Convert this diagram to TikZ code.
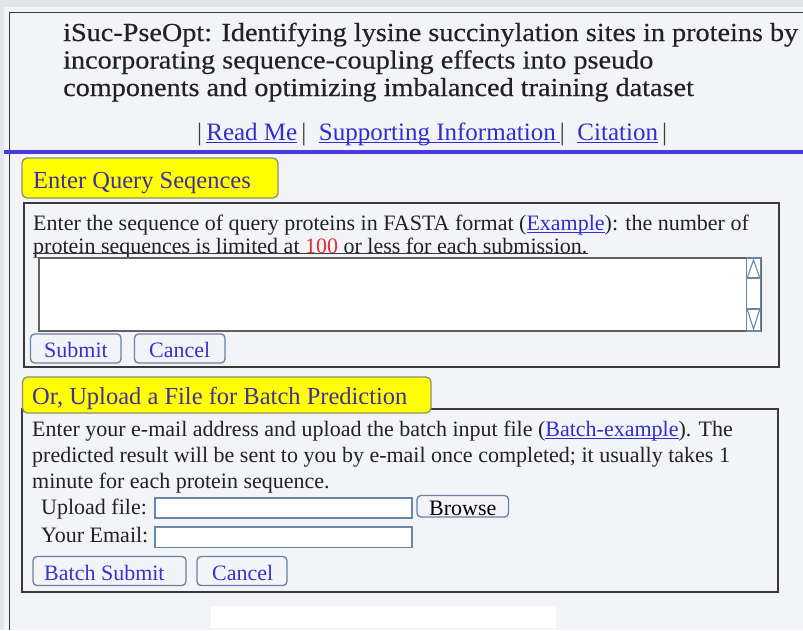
\documentclass[tikz,border=0pt]{standalone}
\usepackage{fontspec}
\setmainfont{Liberation Serif}
\newfontfamily\titlefont[FakeStretch=1.085,FakeBold=0.4]{Liberation Serif}
\definecolor{outerbg}{HTML}{E3E6E8}
\definecolor{panel}{HTML}{F2F4F8}
\definecolor{frameline}{HTML}{3A3A3A}
\definecolor{bluebar}{HTML}{4B3AE0}
\definecolor{tabyellow}{HTML}{FFFF00}
\definecolor{tabborder}{HTML}{8C8F70}
\definecolor{tabtext}{HTML}{40309A}
\definecolor{linkblue}{HTML}{2F2FD0}
\definecolor{btnborder}{HTML}{6C80A0}
\definecolor{btntext}{HTML}{3C2FD0}
\definecolor{inputborder}{HTML}{6A86A8}
\definecolor{redtxt}{HTML}{DC3036}
\definecolor{bodytext}{HTML}{222222}
\newcommand\myul[1]{\setbox0\hbox{#1}\rlap{\rule[-2.6pt]{\wd0}{1pt}}\box0}
\newcommand\lnk[1]{\textcolor{linkblue}{\myul{#1}}}
\tikzset{
  ttl/.style={anchor=base west, inner sep=0pt, text=bodytext, font=\titlefont\fontsize{26}{28}\selectfont},
  txt/.style={anchor=base west, inner sep=0pt, text=bodytext, font=\fontsize{22}{26}\selectfont},
  tabtxt/.style={anchor=base west, inner sep=0pt, text=tabtext, font=\fontsize{24.5}{28}\selectfont},
  btntxt/.style={anchor=base west, inner sep=0pt, text=btntext, font=\fontsize{22}{26}\selectfont},
  tabbox/.style={draw=tabborder, fill=tabyellow, rounded corners=5pt, line width=1.3pt},
  btnbox/.style={draw=btnborder, fill=panel, rounded corners=4pt, line width=1.3pt},
  inbox/.style={draw=inputborder, fill=white, line width=1.2pt},
  boxline/.style={draw=frameline, line width=1.5pt},
}
\begin{document}
\begin{tikzpicture}[x=1pt,y=-1pt]
\useasboundingbox (0,0) rectangle (803,630);
% backgrounds
\fill[outerbg] (0,0) rectangle (803,630);
\fill[panel] (4,7) rectangle (803,630);
\draw[frameline, line width=1.6pt] (9.5,630) -- (9.5,12.5) -- (803,12.5);
% title
\node[ttl] (t1) at (63,41) {iSuc-PseOpt: Identifying lysine succinylation sites in proteins by};
\node[ttl] (t2) at (63,68.5) {incorporating sequence-coupling effects into pseudo};
\node[ttl] (t3) at (63,96) {components and optimizing imbalanced training dataset};
\node[txt, font=\fontsize{25}{28}\selectfont, text=frameline] (links) at (197,140) {|\,\lnk{Read Me}\,|\ \ \lnk{Supporting Information\,}|\ \ \lnk{Citation}\,|};
% blue bar
\draw[bluebar, line width=4pt] (4,152) -- (803,152);
% section 1
\draw[tabbox] (22,158) rectangle (278,198);
\node[tabtxt] (tab1) at (33,188) {Enter Query Seqences};
\draw[boxline] (24,203) rectangle (779,367);
\node[txt] (l1) at (33,230.5) {Enter the sequence of query proteins in FASTA format (\lnk{Example}): the number of};
\node[txt] (l2) at (33,253) {protein sequences is limited at \textcolor{redtxt}{100} or less for each submission.};
\draw[frameline, line width=1pt] (l2.base west) -- (l2.base east);
% textarea
\draw[fill=white, draw=frameline!80, line width=1.3pt] (39,258) rectangle (761,331);
\draw[draw=inputborder, fill=white, line width=1.2pt] (746.5,258) rectangle (760.5,331);
\draw[inputborder, line width=1.1pt] (746.5,278) -- (760.5,278) (746.5,309) -- (760.5,309);
\draw[inputborder, line width=1.1pt] (747.5,277) -- (753.5,260) -- (759.5,277);
\draw[inputborder, line width=1.1pt] (747.5,310) -- (753.5,329) -- (759.5,310);
% buttons
\draw[btnbox] (30.5,334) rectangle (121,363);
\node[btntxt] (sub) at (44,357) {Submit};
\draw[btnbox] (134.5,334) rectangle (225,363);
\node[btntxt] (can1) at (149,357) {Cancel};
% section 2
\draw[boxline] (22,409) rectangle (778,592);
\draw[tabbox] (22.5,377) rectangle (431,413);
\node[tabtxt] (tab2) at (32,404) {Or, Upload a File for Batch Prediction};
\node[txt] (b1) at (32,436) {Enter your e-mail address and upload the batch input file (\lnk{Batch-example}). The};
\node[txt] (b2) at (32,462) {predicted result will be sent to you by e-mail once completed; it usually takes 1};
\node[txt] (b3) at (32,488) {minute for each protein sequence.};
\node[txt] (up) at (41,514) {Upload file:};
\draw[inbox] (155,498) rectangle (412,518);
\draw[btnbox] (417,495.5) rectangle (508.5,517);
\node[txt, text=black] (browse) at (429,515) {Browse};
\node[txt] (em) at (41,542) {Your Email:};
\draw[inbox] (155,527) rectangle (412,547.5);
\draw[btnbox] (33,556.5) rectangle (186,585.5);
\node[btntxt] (bsub) at (44,580) {Batch Submit};
\draw[btnbox] (197,556.5) rectangle (287,585.5);
\node[btntxt] (can2) at (212,580) {Cancel};
% blank strip
\fill[white] (211,606) rectangle (556,628);
\end{tikzpicture}
\end{document}
